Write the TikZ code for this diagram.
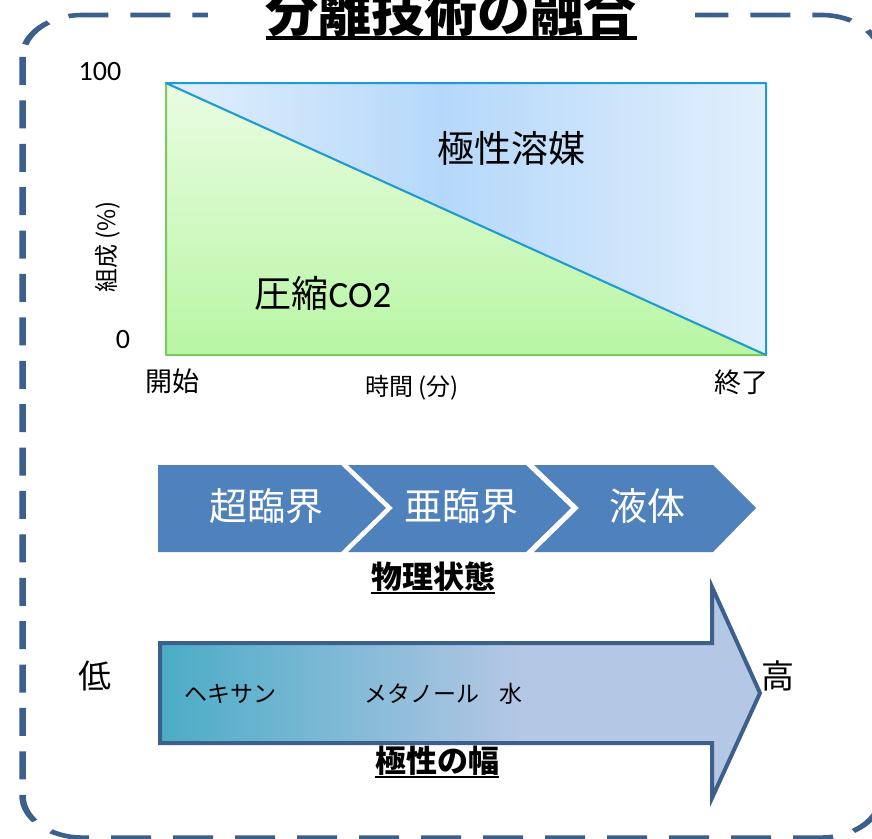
\documentclass[tikz,border=0pt]{standalone}
\usepackage{fontspec}
\setmainfont{Carlito}
\newfontfamily\jp{Noto Sans CJK JP}
\newfontfamily\lat{Carlito}
\newcommand\fsz[1]{\fontsize{#1}{#1}\selectfont}
\newcommand\myul[3]{\setbox0\hbox{#3}\rlap{\rule[-#1]{\wd0}{#2}}\box0}
\definecolor{frameblue}{RGB}{60,95,140}
\definecolor{chev}{RGB}{79,129,189}
\definecolor{bL}{RGB}{226,239,252}
\definecolor{bM}{RGB}{181,216,250}
\definecolor{gT}{RGB}{234,252,226}
\definecolor{gB}{RGB}{184,246,164}
\definecolor{bline}{RGB}{30,155,215}
\definecolor{gline}{RGB}{125,200,95}
\definecolor{arrL}{RGB}{75,172,198}
\definecolor{arrR}{RGB}{180,199,229}
% the middle 50bp (25bp..75bp) of a shading is fitted to the path
\pgfdeclarehorizontalshading{bluegrad}{100bp}{color(0bp)=(bL); color(25bp)=(bL); color(48bp)=(bM); color(75bp)=(bL); color(100bp)=(bL)}
\pgfdeclarehorizontalshading{arrowgrad}{100bp}{color(0bp)=(arrL); color(25bp)=(arrL); color(55bp)=(arrR); color(100bp)=(arrR)}
\tikzset{
  lbl/.style={inner sep=0pt, anchor=center, text=black},
  chevtxt/.style={inner sep=0pt, anchor=center, text=white, font=\jp\fsz{38}},
  chevshape/.style={fill=chev, draw=none},
}
\begin{document}
\begin{tikzpicture}[x=1pt, y=-1pt]
\useasboundingbox (0,0) rectangle (872,838);
% frame (drawn vertically squashed, as in the reference)
\begin{scope}[transform canvas={yscale=0.7}]
\draw[frameblue, line width=6.5pt, dash pattern=on 40pt off 22pt, rounded corners=60pt]
  (22.5,21.4) rectangle (881,1196.5);
\end{scope}
% title
\node[fill=white, inner xsep=58pt, inner ysep=4pt, anchor=base] (title) at (451,31)
  {\jp\bfseries\fsz{53}\myul{8.5pt}{3.5pt}{分離技術の融合}};

% chart
\shade[top color=gT, bottom color=gB, draw=gline, line width=2pt, line join=round] (166,83) -- (766,355) -- (166,355) -- cycle;
\shade[shading=bluegrad, draw=bline, line width=2pt, line join=round] (166,83) -- (766,83) -- (766,355) -- cycle;
\node[lbl, font=\lat\fsz{28}] (n100) at (100,72) {100};
\node[lbl, font=\lat\fsz{28}] (n0) at (123,340) {0};
\node[lbl, font=\jp\fsz{24}, rotate=90] (ylab) at (108,247) {組成 (\%)};
\node[lbl, font=\jp\fsz{27}] (start) at (172,381) {開始};
\node[lbl, font=\jp\fsz{24}] (xlab) at (412,388) {時間 (分)};
\node[lbl, font=\jp\fsz{27}] (end) at (741,382) {終了};
\node[lbl, font=\jp\fsz{37}] (polar) at (511,148) {極性溶媒};
\node[lbl, font=\fsz{37}] (co2) at (323,293) {\jp 圧縮\lat CO2};

% chevrons
\path[chevshape] (158,465) -- (341,465) -- (386,508) -- (341,552) -- (158,552) -- cycle;
\path[chevshape] (348,465) -- (526,465) -- (571,508) -- (526,552) -- (348,552) -- (393,508) -- cycle;
\path[chevshape] (534,465) -- (713,465) -- (756,508) -- (713,552) -- (534,552) -- (579,508) -- cycle;
\node[chevtxt] (c1) at (266,506) {超臨界};
\node[chevtxt] (c2) at (461,506) {亜臨界};
\node[chevtxt] (c3) at (647,506) {液体};
\node[inner sep=0pt, anchor=base] (phys) at (433,588) {\jp\bfseries\fsz{31}\myul{6pt}{2.5pt}{物理状態}};

% big arrow
\shade[shading=arrowgrad, draw=frameblue, line width=4pt, line join=miter]
  (160,643) -- (712,643) -- (712,587) -- (760,693) -- (712,798) -- (712,743) -- (160,743) -- cycle;
\node[lbl, font=\jp\fsz{33}] (low) at (95,676) {低};
\node[lbl, font=\jp\fsz{33}] (high) at (778,676) {高};
\node[lbl, font=\jp\fsz{23}] (hex) at (230,694) {ヘキサン};
\node[lbl, font=\jp\fsz{23}] (meoh) at (422,694) {メタノール};
\node[lbl, font=\jp\fsz{23}] (water) at (511,694) {水};
\node[inner sep=0pt, anchor=base] (pol) at (437,772) {\jp\bfseries\fsz{31}\myul{6pt}{2.5pt}{極性の幅}};
\end{tikzpicture}
\end{document}
